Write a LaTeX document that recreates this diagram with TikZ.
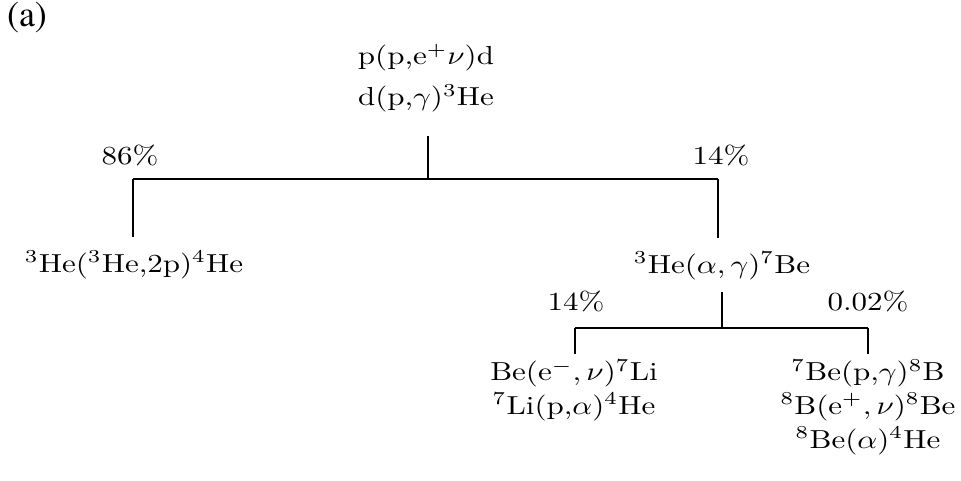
\documentclass[tikz,border=0pt]{standalone}
\usepackage{fontspec}
\usepackage{graphicx}
\newfontfamily\timesfont{TeX Gyre Termes}
\newcommand{\sq}[1]{\scalebox{1}[0.84]{#1}}
\begin{document}
\begin{tikzpicture}[x=0.3226pt,y=-0.3226pt,
  reac/.style={inner sep=0pt, align=center, font=\fontsize{10pt}{10.9pt}\selectfont},
  toprx/.style={reac, font=\fontsize{10pt}{13.3pt}\selectfont},
  pct/.style={inner sep=0pt, font=\fontsize{10pt}{12pt}\selectfont},
  link/.style={line width=0.45pt}]
\useasboundingbox (0,0) rectangle (961,480);
\node[font=\timesfont\fontsize{11.6pt}{13pt}\selectfont, inner sep=0pt] (lab) at (27,18) {(a)};
\node[toprx] (top) at (426,78) {\sq{p(p,e$^+\nu$)d}\\\sq{d(p,$\gamma$)$^3$He}};
\node[reac] (left) at (134,265) {\sq{$^3$He($^3$He,2p)$^4$He}};
\node[reac] (mid) at (722,266) {\sq{$^3$He($\alpha,\gamma$)$^7$Be}};
\node[reac] (bl) at (574,390) {\sq{Be(e$^-,\nu$)$^7$Li}\\\sq{$^7$Li(p,$\alpha$)$^4$He}};
\node[reac] (br) at (868,407) {\sq{$^7$Be(p,$\gamma$)$^8$B}\\\sq{$^8$B(e$^+,\nu$)$^8$Be}\\\sq{$^8$Be($\alpha$)$^4$He}};
\node[pct] (p1) at (130,155) {\sq{86\%}};
\node[pct] (p2) at (721,155) {\sq{14\%}};
\node[pct] (p3) at (576,301) {\sq{14\%}};
\node[pct] (p4) at (868,301) {\sq{0.02\%}};
\coordinate (j1) at (428,179);
\coordinate (l1) at (133,179);
\coordinate (r1) at (718,179);
\coordinate (j2) at (722,328);
\coordinate (l2) at (575,328);
\coordinate (r2) at (868,328);
\draw[link, shorten <=7.5pt] (j1 |- top.south) -- (j1);
\draw[link] (l1) -- (r1);
\draw[link, shorten >=4.5pt] (l1) -- (l1 |- left.north);
\draw[link, shorten >=4.5pt] (r1) -- (r1 |- mid.north);
\draw[link, shorten <=3.8pt] (j2 |- mid.south) -- (j2);
\draw[link] (l2) -- (r2);
\draw[link, shorten >=1.5pt] (l2) -- (l2 |- bl.north);
\draw[link, shorten >=1.5pt] (r2) -- (r2 |- br.north);
\end{tikzpicture}
\end{document}
